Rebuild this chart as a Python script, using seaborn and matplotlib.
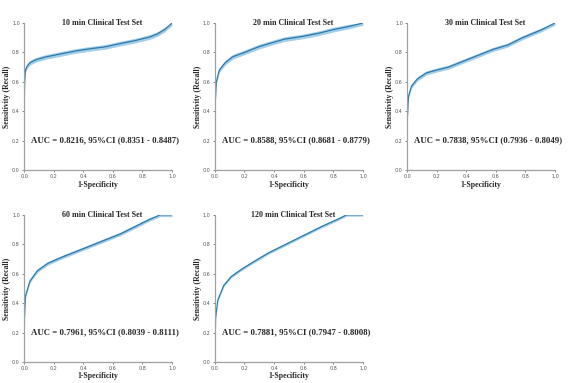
import matplotlib
matplotlib.use("Agg")

import numpy as np
import pandas as pd
import matplotlib.pyplot as plt
import seaborn as sns

# ── Data ─────────────────────────────────────────────────────────────────────
titles = ["10 min Clinical Test Set", "20 min Clinical Test Set", "30 min Clinical Test Set",
          "60 min Clinical Test Set", "120 min Clinical Test Set"]
auc_texts = ["AUC = 0.8216, 95%CI (0.8351 - 0.8487)",
             "AUC = 0.8588, 95%CI (0.8681 - 0.8779)",
             "AUC = 0.7838, 95%CI (0.7936 - 0.8049)",
             "AUC = 0.7961, 95%CI (0.8039 - 0.8111)",
             "AUC = 0.7881, 95%CI (0.7947 - 0.8008)"]

fpr_10 = [0.0, 0.001, 0.004, 0.01, 0.02, 0.04, 0.08, 0.15, 0.25, 0.35, 0.45, 0.55, 0.65, 0.75, 0.85, 0.9, 0.95, 1.0]
tpr_10 = [0.0, 0.40, 0.60, 0.68, 0.705, 0.73, 0.75, 0.77, 0.79, 0.81, 0.825, 0.838, 0.86, 0.88, 0.905, 0.925, 0.955, 1.0]

fpr_20 = [0.0, 0.002, 0.01, 0.03, 0.07, 0.12, 0.2, 0.3, 0.4, 0.47, 0.6, 0.7, 0.8, 0.9, 1.0]
tpr_20 = [0.0, 0.45, 0.60, 0.68, 0.73, 0.77, 0.80, 0.84, 0.87, 0.89, 0.91, 0.93, 0.955, 0.975, 1.0]

fpr_30 = [0.0, 0.002, 0.01, 0.03, 0.07, 0.13, 0.2, 0.28, 0.38, 0.48, 0.58, 0.68, 0.78, 0.9, 1.0]
tpr_30 = [0.0, 0.35, 0.50, 0.57, 0.62, 0.66, 0.68, 0.70, 0.74, 0.78, 0.82, 0.85, 0.90, 0.95, 1.0]

fpr_60 = [0.0, 0.003, 0.01, 0.04, 0.09, 0.16, 0.25, 0.35, 0.45, 0.55, 0.65, 0.75, 0.85, 0.92, 1.0]
tpr_60 = [0.0, 0.30, 0.45, 0.55, 0.62, 0.67, 0.71, 0.75, 0.79, 0.83, 0.87, 0.92, 0.97, 1.0, 1.0]

fpr_120 = [0.0, 0.005, 0.02, 0.06, 0.11, 0.18, 0.26, 0.36, 0.48, 0.6, 0.72, 0.83, 0.89, 1.0]
tpr_120 = [0.0, 0.30, 0.42, 0.52, 0.58, 0.63, 0.68, 0.74, 0.80, 0.86, 0.92, 0.97, 1.0, 1.0]

ci_half = [0.016, 0.016, 0.014, 0.012, 0.009]

curves = [(fpr_10, tpr_10), (fpr_20, tpr_20), (fpr_30, tpr_30),
          (fpr_60, tpr_60), (fpr_120, tpr_120)]

# ── Style ─────────────────────────────────────────────────────────────────────
LINE = "#2c79ad"
BAND = "#8cc2e3"
SPINE = "#a0a0a0"

sns.set_theme(style="ticks")
plt.rcParams["font.family"] = ["Liberation Serif", "DejaVu Serif"]

fig = plt.figure(figsize=(5.76, 3.83), dpi=100)
lefts = [0.0417, 0.373, 0.7066]
bottoms = [0.556, 0.055]
w, h = 0.257, 0.384

for i, ((fpr, tpr), title, auc) in enumerate(zip(curves, titles, auc_texts)):
    r, c = divmod(i, 3)
    ax = fig.add_axes([lefts[c], bottoms[r], w, h])
    df = pd.DataFrame({"fpr": fpr, "tpr": tpr})
    lo = np.clip(df["tpr"] - ci_half[i], 0, 1)
    hi = np.clip(df["tpr"] + ci_half[i], 0, 1)
    ax.fill_between(df["fpr"], lo, hi, color=BAND, alpha=0.8, lw=0)
    sns.lineplot(data=df, x="fpr", y="tpr", ax=ax, color=LINE, lw=0.9, estimator=None, sort=False)

    ax.set_xlim(0, 1)
    ax.set_ylim(0, 1)
    ax.set_xticks(np.arange(0, 1.01, 0.2))
    ax.set_yticks(np.arange(0, 1.01, 0.2))
    ax.set_xticklabels([f"{v:.1f}" for v in ax.get_xticks()], family="DejaVu Sans")
    ax.set_yticklabels([f"{v:.1f}" for v in ax.get_yticks()], family="DejaVu Sans")
    ax.tick_params(labelsize=3.5, colors="#555555", length=1.5, width=0.5, pad=1.5)
    for s in ["left", "bottom"]:
        ax.spines[s].set_color(SPINE)
        ax.spines[s].set_linewidth(0.9)
    sns.despine(ax=ax)

    ax.set_xlabel("1-Specificity", fontsize=5.6, fontweight="bold", labelpad=1)
    ax.set_ylabel("Sensitivity (Recall)", fontsize=5.6, fontweight="bold", labelpad=1)
    ax.text(0.53, 1.0, title, transform=ax.transAxes, ha="center", va="center",
            fontsize=5.8, fontweight="bold")
    ax.text(0.05, 0.205, auc, transform=ax.transAxes, ha="left", va="center",
            fontsize=6.3, fontweight="bold")

fig.savefig("out.png", dpi=100)
